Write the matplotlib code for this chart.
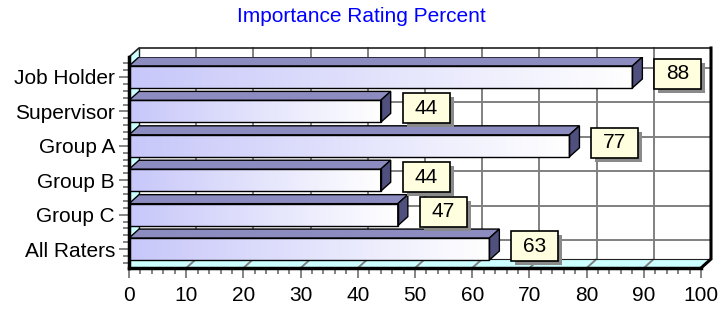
import matplotlib.pyplot as plt
import numpy as np
from matplotlib.patches import Polygon, Rectangle
from matplotlib.ticker import MultipleLocator

categories = ["Job Holder", "Supervisor", "Group A", "Group B", "Group C", "All Raters"]
values = [88, 44, 77, 44, 47, 63]
x_ticks = [0, 10, 20, 30, 40, 50, 60, 70, 80, 90, 100]

W, H = 723, 311
fig = plt.figure(figsize=(W / 100, H / 100), dpi=100)
plt.rcParams["font.family"] = ["Liberation Sans", "DejaVu Sans"]

# front plane in pixels
left_px, right_px, top_px, bottom_px = 129, 701, 57, 268
ax = fig.add_axes([left_px / W, (H - bottom_px) / H,
                   (right_px - left_px) / W, (bottom_px - top_px) / H])
ylo, yhi = -0.55, 5.58
xmax = 100
ax.set_xlim(0, xmax)
ax.set_ylim(ylo, yhi)

sx = (right_px - left_px) / xmax
sy = (bottom_px - top_px) / (yhi - ylo)
dx = 10 / sx      # depth offset, data units
dy = 9 / sy

ypos = np.arange(len(categories))[::-1]

# back wall, left wall, floor
ax.add_patch(Polygon([(dx, ylo + dy), (xmax + dx, ylo + dy), (xmax + dx, yhi + dy), (dx, yhi + dy)],
                     closed=True, fc="white", ec="none", clip_on=False, zorder=0))
ax.add_patch(Polygon([(0, ylo), (dx, ylo + dy), (dx, yhi + dy), (0, yhi)],
                     closed=True, fc="#ccffff", ec="none", clip_on=False, zorder=0.5))
ax.add_patch(Polygon([(0, ylo), (xmax, ylo), (xmax + dx, ylo + dy), (dx, ylo + dy)],
                     closed=True, fc="#ccffff", ec="none", clip_on=False, zorder=0.5))

grid_c = "#808080"
for x in x_ticks[1:-1]:
    ax.plot([x + dx, x + dx], [ylo + dy, yhi + dy], color=grid_c, lw=1.4, clip_on=False, zorder=1)
    ax.plot([x, x + dx], [ylo, ylo + dy], color=grid_c, lw=1.4, clip_on=False, zorder=1)
for y in ypos:
    ax.plot([dx, xmax + dx], [y + dy, y + dy], color=grid_c, lw=1.4, clip_on=False, zorder=1)

# wall outlines
ax.plot([0, dx, xmax + dx], [yhi, yhi + dy, yhi + dy], color="#202020", lw=1.2, clip_on=False, zorder=1.5)
ax.plot([dx, dx], [ylo + dy, yhi + dy], color="#202020", lw=1.0, clip_on=False, zorder=1.5)
ax.plot([dx, xmax + dx], [ylo + dy, ylo + dy], color="#202020", lw=0.8, clip_on=False, zorder=1.5)
ax.plot([xmax + dx, xmax + dx, xmax], [yhi + dy, ylo + dy, ylo], color="black", lw=2.2,
        clip_on=False, zorder=1.5, solid_joinstyle="miter")

# bars
h = 22 / sy
grad = np.linspace(0, 1, 256).reshape(1, -1)
c0 = np.array([0.78, 0.78, 0.98])
c1 = np.array([1.0, 1.0, 1.0])
img = c0[None, None, :] * (1 - grad[..., None]) + c1[None, None, :] * grad[..., None]
for y, v in zip(ypos, values):
    b, t = y - h / 2, y + h / 2
    ax.imshow(img, extent=(0, v, b, t), aspect="auto", interpolation="bilinear", zorder=3)
    ax.add_patch(Rectangle((0, b), v, h, fc="none", ec="black", lw=1.0, zorder=3.2))
    ax.add_patch(Polygon([(0, t), (v, t), (v + dx, t + dy), (dx, t + dy)], closed=True,
                         fc="#8c8cc0", ec="black", lw=1.0, zorder=3.1))
    ax.add_patch(Polygon([(v, b), (v + dx, b + dy), (v + dx, t + dy), (v, t)], closed=True,
                         fc="#50507f", ec="black", lw=1.0, zorder=3.1))

    # value label box with shadow
    bw, bh = 47 / sx, 30 / sy
    bx = v + 22 / sx
    by = y + 3 / sy - bh / 2
    ax.add_patch(Rectangle((bx + 4 / sx, by - 4 / sy), bw, bh, fc="#8a8a8a", ec="none",
                           clip_on=False, zorder=4))
    ax.add_patch(Rectangle((bx, by), bw, bh, fc="#ffffe0", ec="black", lw=1.2,
                           clip_on=False, zorder=4.1))
    ax.text(bx + bw / 2, by + bh / 2, str(v), ha="center", va="center", fontsize=15,
            zorder=4.2, clip_on=False)

ax.set_xlim(0, xmax)
ax.set_ylim(ylo, yhi)

# axes
ax.set_xticks(x_ticks)
ax.set_xticklabels([str(x) for x in x_ticks], fontsize=15)
ax.xaxis.set_minor_locator(MultipleLocator(2))
ax.set_yticks(ypos)
ax.set_yticklabels(categories, fontsize=15)
ax.yaxis.set_minor_locator(MultipleLocator(0.2))
ax.tick_params(axis="both", which="major", length=7, width=1.2, color="#707070")
ax.tick_params(axis="x", which="major", pad=6)
ax.tick_params(axis="y", which="major", pad=3)
ax.tick_params(axis="both", which="minor", length=4, width=1.2, color="#707070")
for s in ["top", "right"]:
    ax.spines[s].set_visible(False)
for s in ["left", "bottom"]:
    ax.spines[s].set_linewidth(2.5)
    ax.spines[s].set_zorder(5)
ax.patch.set_visible(False)

fig.text(0.5, 1 - 17 / H, "Importance Rating Percent", ha="center", va="center",
         fontsize=15, color="#0000ff")

fig.savefig("out.png", dpi=100)
